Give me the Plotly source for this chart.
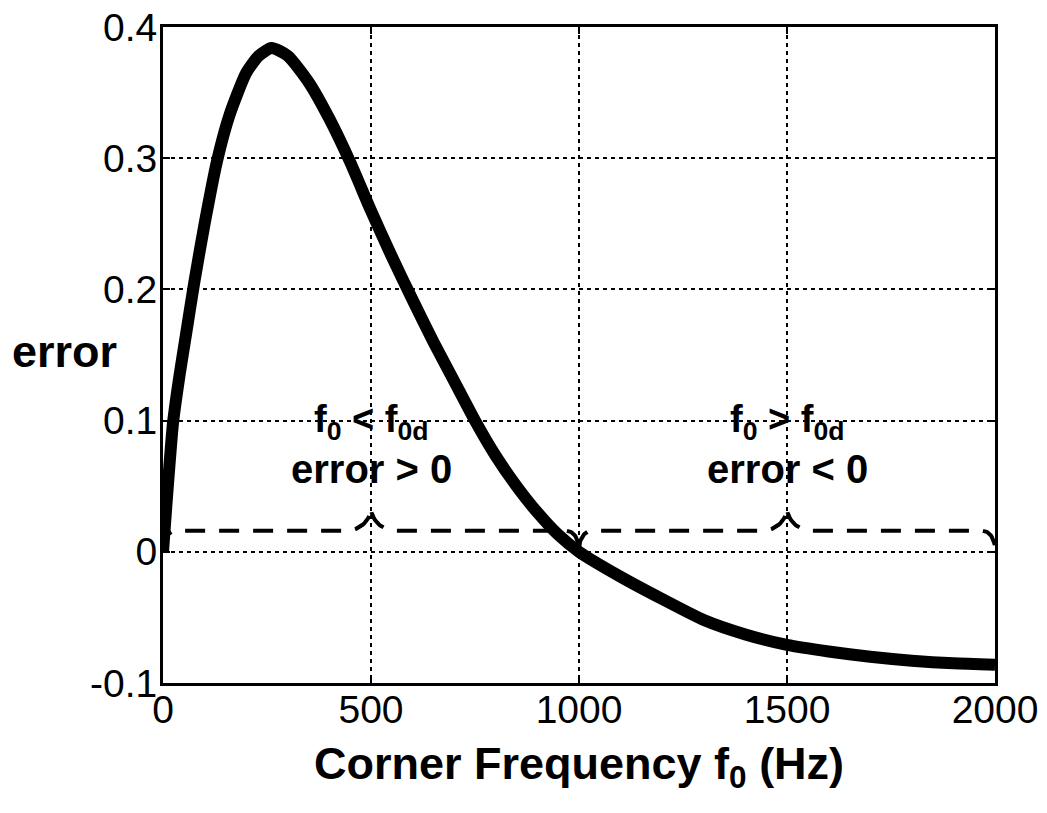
import numpy as np
import plotly.graph_objects as go

# ---- data ----
freq_hz = [0, 8, 16, 24, 40, 55, 75, 100, 130, 160, 200, 230, 261, 300, 350,
           400, 450, 500, 550, 600, 650, 700, 750, 800, 850, 900, 950, 1000,
           1100, 1200, 1300, 1400, 1500, 1600, 1700, 1800, 1900, 2000]
error_vals = [0.0, 0.035, 0.068, 0.098, 0.135, 0.165, 0.205, 0.250, 0.298,
              0.333, 0.365, 0.378, 0.384, 0.378, 0.358, 0.330, 0.297, 0.260,
              0.225, 0.192, 0.160, 0.130, 0.100, 0.073, 0.050, 0.030, 0.013,
              0.0, -0.019, -0.036, -0.052, -0.063, -0.071, -0.076, -0.080,
              -0.083, -0.085, -0.086]

x_ticks = [0, 500, 1000, 1500, 2000]
x_tick_labels = ["0", "500", "1000", "1500", "2000"]
y_ticks = [-0.1, 0, 0.1, 0.2, 0.3, 0.4]
y_tick_labels = ["-0.1", "0", "0.1", "0.2", "0.3", "0.4"]

# brace regions: (start, end)
brace_regions = [(0, 1000), (1000, 2000)]
region_line1 = ["f<sub>0</sub> &lt; f<sub>0d</sub>", "f<sub>0</sub> &gt; f<sub>0d</sub>"]
region_line2 = ["error &gt; 0", "error &lt; 0"]

FONT = "Liberation Sans, Arial, Helvetica, sans-serif"


def brace_path(x0, x1, base=0.002, level=0.016, tip=0.034, end_dx=30, mid_dx=60, n=20):
    xm = 0.5 * (x0 + x1)
    t = np.linspace(0, np.pi / 2, n)
    xs, ys = [], []
    xs += list(x0 + end_dx * (1 - np.cos(t)))
    ys += list(base + (level - base) * np.sin(t))
    xs += list(xm - mid_dx + mid_dx * np.sin(t))
    ys += list(level + (tip - level) * (1 - np.cos(t)))
    xs += list(xm + mid_dx * (1 - np.cos(t)))
    ys += list(tip - (tip - level) * np.sin(t))
    xs += list(x1 - end_dx + end_dx * np.sin(t))
    ys += list(level - (level - base) * (1 - np.cos(t)))
    return xs, ys


fig = go.Figure()

for (a, b) in brace_regions:
    bx, by = brace_path(a, b)
    fig.add_trace(go.Scatter(x=bx, y=by, mode="lines",
                             line=dict(color="black", width=4, dash="20px,14px"),
                             hoverinfo="skip", showlegend=False))

fig.add_trace(go.Scatter(x=freq_hz, y=error_vals, mode="lines",
                         line=dict(color="black", width=12, shape="spline", smoothing=0.6),
                         showlegend=False))

for (a, b), t1, t2 in zip(brace_regions, region_line1, region_line2):
    xm = 0.5 * (a + b)
    fig.add_annotation(x=xm, y=0.099, text=f"<b>{t1}</b>", showarrow=False,
                       font=dict(family=FONT, size=38, color="black"),
                       xanchor="center", yanchor="middle")
    fig.add_annotation(x=xm, y=0.063, text=f"<b>{t2}</b>", showarrow=False,
                       font=dict(family=FONT, size=40, color="black"),
                       xanchor="center", yanchor="middle")

# y label (horizontal)
fig.add_annotation(xref="paper", yref="paper", x=-0.118, y=0.505,
                   text="<b>error</b>", showarrow=False,
                   font=dict(family=FONT, size=45, color="black"),
                   xanchor="center", yanchor="middle")

# x title
fig.add_annotation(xref="paper", yref="paper", x=0.5, y=-0.127,
                   text="<b>Corner Frequency f<sub>0</sub> (Hz)</b>", showarrow=False,
                   font=dict(family=FONT, size=45, color="black"),
                   xanchor="center", yanchor="middle")

fig.update_layout(
    width=1047, height=813,
    margin=dict(l=163, r=52, t=27, b=130),
    paper_bgcolor="white", plot_bgcolor="white",
    font=dict(family=FONT, color="black"),
    showlegend=False,
)

common = dict(
    tickfont=dict(family=FONT, size=39, color="black"),
    showline=True, linecolor="black", linewidth=3, mirror="ticks",
    ticks="inside", ticklen=7, tickwidth=2, tickcolor="black",
    showgrid=True, gridcolor="black", gridwidth=1.5, griddash="4px,4px",
    zeroline=False, automargin=False, ticklabeloverflow="allow",
)
fig.update_xaxes(range=[0, 2000], tickvals=x_ticks, ticktext=x_tick_labels,
                 ticklabelstandoff=-10, **common)
fig.update_yaxes(range=[-0.1, 0.4], tickvals=y_ticks, ticktext=y_tick_labels,
                 ticklabelstandoff=-5, **common)

# remove the default 8px page margin so the figure fills the window exactly
fig.write_html("out.html",
               config={"displayModeBar": False},
               post_script="document.body.style.margin='0';document.body.style.overflow='hidden';")
